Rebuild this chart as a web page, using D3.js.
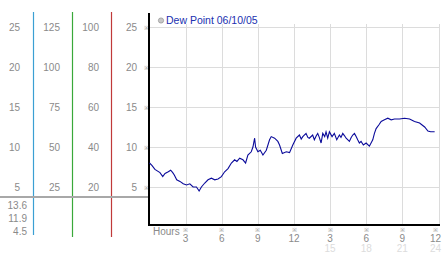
<!DOCTYPE html>
<html><head><meta charset="utf-8">
<script src="https://cdn.jsdelivr.net/npm/d3@7"></script>
<style>body{margin:0;background:#fff}svg{display:block;font-family:"Liberation Sans",Arial,sans-serif}</style>
</head><body>
<svg id="c" width="442" height="253"></svg>
<script>
const hours = [0,0.2,0.45,0.87,1.1,1.29,1.56,1.76,1.93,2.06,2.26,2.53,2.8,3.08,3.35,3.62,3.9,4.12,4.31,4.59,4.86,5.14,5.42,5.69,5.97,6.24,6.52,6.8,7.07,7.26,7.49,7.76,7.98,8.17,8.45,8.59,8.73,8.81,9.0,9.2,9.42,9.7,9.97,10.11,10.39,10.66,10.8,11.03,11.36,11.63,11.9,12.18,12.45,12.6,12.73,13.0,13.15,13.27,13.55,13.69,13.85,13.97,14.1,14.25,14.39,14.55,14.66,14.8,14.94,15.16,15.35,15.55,15.77,15.9,16.05,16.2,16.33,16.6,16.75,16.88,17.02,17.16,17.29,17.43,17.57,17.76,17.99,18.26,18.4,18.54,18.68,18.82,19.04,19.24,19.51,19.79,20.07,20.35,20.76,21.18,21.6,22.01,22.43,22.85,23.12,23.35,23.68];
const dewPoint = [8.0,7.7,7.2,6.8,6.3,6.7,6.9,7.1,6.8,6.5,5.9,5.7,5.4,5.25,5.4,5.0,5.0,4.5,5.0,5.5,5.9,6.1,5.9,6.0,6.3,6.9,7.3,8.0,8.4,8.2,8.6,8.4,8.0,9.0,9.4,10.0,11.1,10.0,9.4,9.6,9.0,9.6,10.9,11.3,11.1,10.7,10.25,9.2,9.4,9.3,10.25,11.1,11.5,11.0,11.3,11.7,11.2,11.1,11.5,10.9,11.4,11.7,11.2,10.5,11.7,11.3,11.9,11.1,11.9,11.3,11.7,10.9,11.5,11.2,11.7,11.4,11.1,10.7,11.2,11.5,11.7,11.3,10.9,10.5,10.7,10.25,10.5,10.1,10.5,10.9,11.7,12.3,12.75,13.2,13.4,13.6,13.4,13.5,13.5,13.6,13.5,13.2,13.0,12.5,12.0,11.9,11.9];
const yTicks = [5,10,15,20,25];
const col1Labels = ["5","10","15","20","25"];
const col2Labels = ["25","50","75","100","125"];
const col3Labels = ["20","40","60","80","100"];
const col4Labels = ["5","10","15","20","25"];
const xTicks = [3,6,9,12,15,18,21,24];
const xLabels1 = ["3","6","9","12","3","6","9","12"];
const xLabels2 = ["","","","","15","18","21","24"];
const stats = ["13.6","11.9","4.5"];
const legendText = "Dew Point 06/10/05";

const svg = d3.select("#c");
const x = d3.scaleLinear().domain([0,24]).range([149.5,438.5]);
const y = d3.scaleLinear().domain([0,25]).range([227,27]);
const grey = "#8a8a8a";

// grid
svg.append("g").selectAll("line").data(yTicks).join("line")
  .attr("x1",150).attr("x2",440).attr("y1",d=>Math.round(y(d))+0.5).attr("y2",d=>Math.round(y(d))+0.5)
  .attr("stroke","#dcdcdc");
svg.append("g").selectAll("line").data(xTicks).join("line")
  .attr("x1",d=>Math.round(x(d))+0.5).attr("x2",d=>Math.round(x(d))+0.5).attr("y1",24).attr("y2",225)
  .attr("stroke","#dcdcdc");

// left columns
const cols = [[col1Labels,20,"#3b9fd3",33.5],[col2Labels,60,"#3aa83a",72.5],[col3Labels,99,"#c03a3a",111.5],[col4Labels,137,null,null]];
cols.forEach(([labs,xr,col,lx])=>{
  svg.append("g").selectAll("text").data(yTicks).join("text")
    .attr("x",xr).attr("y",d=>y(d)+3.5).attr("text-anchor","end")
    .attr("font-size",10).attr("fill",grey).text((d,i)=>labs[i]);
  if(col) svg.append("line").attr("x1",lx).attr("x2",lx).attr("y1",12).attr("y2",lx<40?235:237)
    .attr("stroke",col).attr("stroke-width",1.2);
});
// tick marks beside col4
svg.append("g").selectAll("text").data(yTicks).join("text")
  .attr("x",146).attr("y",d=>y(d)+2.5).attr("text-anchor","middle")
  .attr("font-size",6).attr("fill","#999").text("※");

// separator line
svg.append("line").attr("x1",0).attr("x2",149).attr("y1",197).attr("y2",197).attr("stroke","#a8a8a8").attr("stroke-width",2);
svg.append("g").selectAll("text").data(stats).join("text")
  .attr("x",27).attr("y",(d,i)=>208.5+i*13.3).attr("text-anchor","end")
  .attr("font-size",10).attr("fill",grey).text(d=>d);

// axes
svg.append("line").attr("x1",149).attr("x2",149).attr("y1",13).attr("y2",226).attr("stroke","#000").attr("stroke-width",2);
svg.append("line").attr("x1",148).attr("x2",440).attr("y1",225).attr("y2",225).attr("stroke","#000").attr("stroke-width",2);

// x labels
const lastX = d => d===24;
svg.append("text").attr("x",153).attr("y",235).attr("font-size",10).attr("fill",grey).text("Hours");
svg.append("g").selectAll("text").data(xTicks).join("text")
  .attr("x",d=>x(d)-(lastX(d)?3:0)).attr("y",232).attr("text-anchor","middle").attr("font-size",6).attr("fill","#999").text("※");
svg.append("g").selectAll("text").data(xTicks).join("text")
  .attr("x",d=>lastX(d)?441:x(d)).attr("y",241.5).attr("text-anchor",d=>lastX(d)?"end":"middle").attr("font-size",10).attr("fill",grey).text((d,i)=>xLabels1[i]);
svg.append("g").selectAll("text").data(xTicks).join("text")
  .attr("x",d=>lastX(d)?441:x(d)).attr("y",251.5).attr("text-anchor",d=>lastX(d)?"end":"middle").attr("font-size",10).attr("fill","#dcdcdc").text((d,i)=>xLabels2[i]);

// legend
svg.append("circle").attr("cx",161).attr("cy",20.5).attr("r",2.6).attr("fill","#c8c8c8").attr("stroke","#999").attr("stroke-width",0.8);
svg.append("text").attr("x",166).attr("y",24).attr("font-size",10.5).attr("fill","#2030b0").text(legendText);

// line
const pts = hours.map((h,i)=>[h,dewPoint[i]]);
svg.append("path").datum(pts)
  .attr("d",d3.line().x(d=>x(d[0])).y(d=>y(d[1])))
  .attr("fill","none").attr("stroke","#0a0a9a").attr("stroke-width",1.1);
</script>
</body></html>
